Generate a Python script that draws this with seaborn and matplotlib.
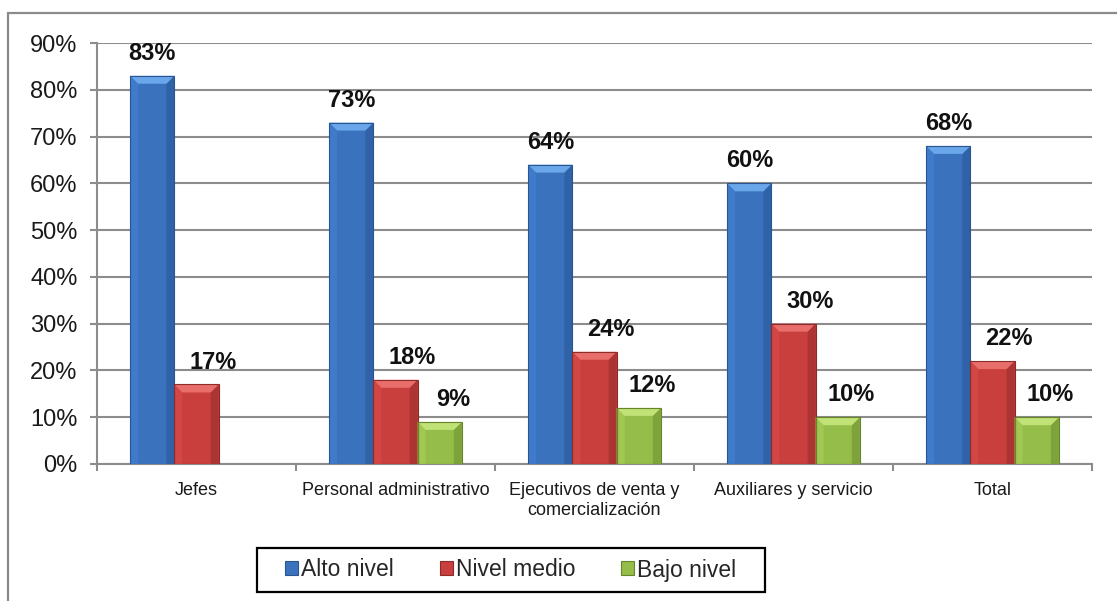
import numpy as np
import pandas as pd
import matplotlib
matplotlib.use("Agg")
import matplotlib.pyplot as plt
import seaborn as sns
from matplotlib.patches import Polygon, Rectangle
from matplotlib.ticker import PercentFormatter, FixedLocator, NullFormatter

# ---- data -------------------------------------------------------------
categorias = ["Jefes", "Personal administrativo",
              "Ejecutivos de venta y\ncomercialización",
              "Auxiliares y servicio", "Total"]
series = ["Alto nivel", "Nivel medio", "Bajo nivel"]
alto_nivel = [83, 73, 64, 60, 68]
nivel_medio = [17, 18, 24, 30, 22]
bajo_nivel = [np.nan, 9, 12, 10, 10]
y_ticks = [0, 10, 20, 30, 40, 50, 60, 70, 80, 90]

df = pd.DataFrame({
    "categoria": categorias * 3,
    "serie": [s for s in series for _ in categorias],
    "valor": alto_nivel + nivel_medio + bajo_nivel,
})

# ---- style ------------------------------------------------------------
sns.set_theme(style="white")
plt.rcParams["font.family"] = ["Liberation Sans", "DejaVu Sans"]

body = {"Alto nivel": "#3A72BE", "Nivel medio": "#C93F3D", "Bajo nivel": "#95BD49"}
light = {"Alto nivel": "#6AA6EA", "Nivel medio": "#E86E6B", "Bajo nivel": "#C0E276"}
side_l = {"Alto nivel": "#3F7BCA", "Nivel medio": "#D24644", "Bajo nivel": "#A0C852"}
side_r = {"Alto nivel": "#2F62A6", "Nivel medio": "#AC3533", "Bajo nivel": "#7FA33B"}
dark = {"Alto nivel": "#2A5590", "Nivel medio": "#8E2B29", "Bajo nivel": "#67862C"}
grid_c = "#8C8C8C"

W, H = 1117, 601
fig = plt.figure(figsize=(W / 100, H / 100), dpi=100)
ax = fig.add_axes([97 / W, (H - 464) / H, 995 / W, 421 / H])

sns.barplot(data=df, x="categoria", y="valor", hue="serie",
            order=categorias, hue_order=series, palette=body, saturation=1,
            width=2 / 3, errorbar=None, ax=ax, legend=True,
            edgecolor="none", linewidth=0, zorder=3)

ax.set_xlim(-0.5, len(categorias) - 0.5)
ax.set_ylim(0, 90)
ax.set_yticks(y_ticks)
ax.yaxis.set_major_formatter(PercentFormatter(xmax=100, decimals=0))
ax.set_xlabel("")
ax.set_ylabel("")

# gridlines and axes
ax.yaxis.grid(True, color=grid_c, linewidth=1.5, zorder=0)
ax.set_axisbelow(True)
for s in ["top", "right"]:
    ax.spines[s].set_visible(False)
for s in ["left", "bottom"]:
    ax.spines[s].set_color(grid_c)
    ax.spines[s].set_linewidth(1.5)

ax.tick_params(axis="y", which="major", direction="out", length=5, width=1.5,
               color=grid_c, pad=9, labelsize=17, labelcolor="#1a1a1a", left=True)

# category boundaries as major ticks, labels on minor ticks at the centres
ax.xaxis.set_major_locator(FixedLocator(np.arange(-0.5, len(categorias), 1.0)))
ax.xaxis.set_major_formatter(NullFormatter())
ax.xaxis.set_minor_locator(FixedLocator(np.arange(len(categorias))))
ax.set_xticklabels(categorias, minor=True, fontsize=13, color="#1a1a1a",
                   linespacing=1.25)
ax.tick_params(axis="x", which="major", direction="out", length=5, width=1.5,
               color=grid_c, bottom=True)
ax.tick_params(axis="x", which="minor", length=0, pad=13, bottom=True)

# bevelled bars: shade each bar drawn by seaborn
fig.canvas.draw()
bevel = 8.0
to_disp = ax.transData
label_dx = {"Alto nivel": 0, "Nivel medio": 12, "Bajo nivel": 10}
for cont, name in zip(ax.containers, series):
    for patch, val in zip(cont.patches, cont.datavalues):
        if not np.isfinite(val) or patch.get_height() == 0:
            continue
        x0, y0 = patch.get_x(), patch.get_y()
        x1, y1 = x0 + patch.get_width(), y0 + patch.get_height()
        (px0, py0), (px1, py1) = to_disp.transform([(x0, y0), (x1, y1)])
        b = min(bevel, (py1 - py0) / 2)
        polys = [
            ([(px0, py0), (px0 + b, py0), (px0 + b, py1 - b), (px0, py1)], side_l[name]),
            ([(px1, py0), (px1 - b, py0), (px1 - b, py1 - b), (px1, py1)], side_r[name]),
            ([(px0, py1), (px1, py1), (px1 - b, py1 - b), (px0 + b, py1 - b)], light[name]),
        ]
        for pts, col in polys:
            poly = Polygon(pts, closed=True, facecolor=col, edgecolor="none",
                           transform=None, zorder=4)
            ax.add_artist(poly)
        outline = Polygon([(px0, py0), (px1, py0), (px1, py1), (px0, py1)], closed=True,
                          facecolor="none", edgecolor=dark[name], linewidth=0.8,
                          transform=None, zorder=5)
        ax.add_artist(outline)
        ax.annotate(f"{val:.0f}%", xy=(x0 + patch.get_width() / 2, val),
                    xytext=(label_dx[name], 11.5), textcoords="offset points",
                    ha="center", va="baseline", fontsize=17, fontweight="bold",
                    color="#111111", zorder=6)

# legend (entries) with a wider box drawn around them
handles, labels = ax.get_legend_handles_labels()
if ax.legend_ is not None:
    ax.legend_.remove()
leg = fig.legend(handles, labels, loc="center", ncol=3,
                 bbox_to_anchor=(511 / W, (H - 570) / H),
                 bbox_transform=fig.transFigure, frameon=False,
                 fontsize=16.5, handlelength=0.55, handleheight=0.55,
                 handletextpad=0.15, columnspacing=2.0, borderpad=0.3,
                 borderaxespad=0)
for h, name in zip(leg.legend_handles, series):
    h.set_edgecolor(dark[name])
    h.set_linewidth(0.8)
fig.add_artist(Rectangle((257 / W, (H - 592) / H), (765 - 257) / W, 44 / H,
                         transform=fig.transFigure, fill=False,
                         edgecolor="black", linewidth=1.6))

# chart area border
fig.add_artist(Rectangle((8 / W, -0.05), 1.0, (H - 13) / H + 0.05,
                         transform=fig.transFigure, fill=False,
                         edgecolor="#8A8A8A", linewidth=1.6))

fig.savefig("out.png", dpi=100)
